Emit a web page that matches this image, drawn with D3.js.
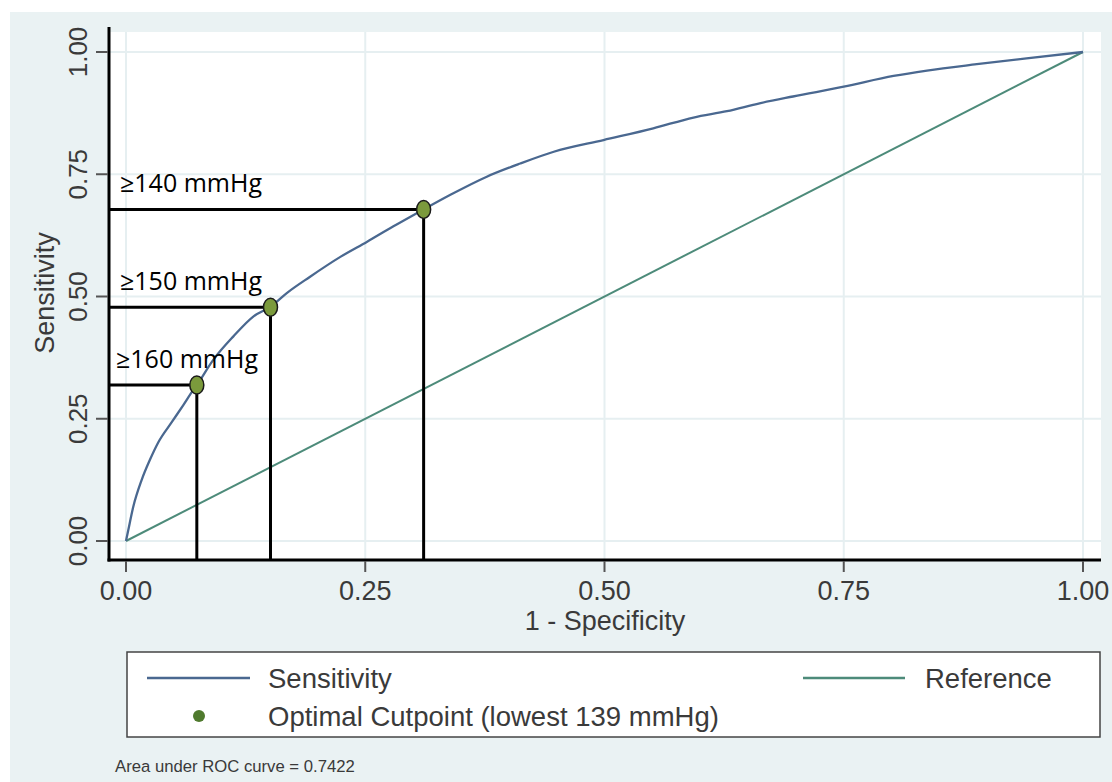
<!DOCTYPE html>
<html>
<head>
<meta charset="utf-8">
<script src="https://cdn.jsdelivr.net/npm/d3@7"></script>
<style>
  html, body { margin: 0; padding: 0; background: #ffffff; }
  svg { display: block; }
</style>
</head>
<body>
<svg id="chart" width="1112" height="782"></svg>
<script>
// ---- Data ----
const rocFpr = [0, 0.0024, 0.0076, 0.0164, 0.025, 0.0338, 0.0478, 0.0599, 0.0703, 0.074, 0.091, 0.112, 0.133, 0.151, 0.168, 0.192, 0.224, 0.252, 0.279, 0.310, 0.339, 0.377, 0.412, 0.447, 0.499, 0.551, 0.593, 0.628, 0.662, 0.697, 0.750, 0.802, 0.837, 0.889, 0.941, 1.0];
const rocSens = [0, 0.0225, 0.070, 0.125, 0.166, 0.202, 0.243, 0.278, 0.309, 0.319, 0.370, 0.418, 0.459, 0.479, 0.507, 0.540, 0.581, 0.612, 0.643, 0.677, 0.708, 0.745, 0.772, 0.796, 0.820, 0.844, 0.866, 0.879, 0.895, 0.909, 0.929, 0.951, 0.962, 0.975, 0.987, 1.0];
const refFpr = [0, 1];
const refSens = [0, 1];
const cutLabels = ["≥140 mmHg", "≥150 mmHg", "≥160 mmHg"];
const cutFpr = [0.311, 0.151, 0.074];
const cutSens = [0.678, 0.478, 0.319];
const tickValues = [0, 0.25, 0.5, 0.75, 1];
const tickLabels = ["0.00", "0.25", "0.50", "0.75", "1.00"];
const legendLabels = ["Sensitivity", "Reference", "Optimal Cutpoint (lowest 139 mmHg)"];
const aucNote = "Area under ROC curve = 0.7422";
const xTitle = "1 - Specificity";
const yTitle = "Sensitivity";

// ---- Layout ----
const svg = d3.select("#chart");
const bg = "#eaf2f3";
const gridCol = "#e6eff1";
const textCol = "#3a3a3a";
const sensCol = "#4a6890";
const refCol = "#4d8b7a";
const sansFont = "'Liberation Sans', Arial, Helvetica, sans-serif";
const annFont = "'Open Sans', 'Noto Sans', sans-serif";

const plot = { left: 110, right: 1101, top: 32, bottom: 560 };
const x = d3.scaleLinear().domain([0, 1]).range([126, 1083]);
const y = d3.scaleLinear().domain([0, 1]).range([541, 52]);

// outer background
svg.append("rect").attr("x", 10).attr("y", 12).attr("width", 1102).attr("height", 770).attr("fill", bg);
// plot region
svg.append("rect").attr("x", plot.left).attr("y", plot.top)
  .attr("width", plot.right - plot.left).attr("height", plot.bottom - plot.top).attr("fill", "#ffffff");

// grid
const grid = svg.append("g");
grid.selectAll("line.v").data(tickValues).join("line")
  .attr("x1", d => x(d)).attr("x2", d => x(d))
  .attr("y1", plot.top).attr("y2", plot.bottom)
  .attr("stroke", gridCol).attr("stroke-width", 2);
grid.selectAll("line.h").data(tickValues).join("line")
  .attr("x1", plot.left).attr("x2", plot.right)
  .attr("y1", d => y(d)).attr("y2", d => y(d))
  .attr("stroke", gridCol).attr("stroke-width", 2);

// reference line
const lineGen = d3.line().x(d => x(d[0])).y(d => y(d[1]));
svg.append("path").datum(refFpr.map((v, i) => [v, refSens[i]]))
  .attr("d", lineGen).attr("fill", "none").attr("stroke", refCol).attr("stroke-width", 2);
// ROC curve
svg.append("path").datum(rocFpr.map((v, i) => [v, rocSens[i]]))
  .attr("d", d3.line().curve(d3.curveMonotoneX).x(d => x(d[0])).y(d => y(d[1])))
  .attr("fill", "none").attr("stroke", sensCol).attr("stroke-width", 2.3);

// cutpoint guide lines
const cuts = cutLabels.map((l, i) => ({ label: l, fpr: cutFpr[i], sens: cutSens[i] }));
const guides = svg.append("g");
guides.selectAll("line.h").data(cuts).join("line")
  .attr("x1", plot.left).attr("x2", d => x(d.fpr))
  .attr("y1", d => y(d.sens)).attr("y2", d => y(d.sens))
  .attr("stroke", "#000").attr("stroke-width", 3);
guides.selectAll("line.v").data(cuts).join("line")
  .attr("x1", d => x(d.fpr)).attr("x2", d => x(d.fpr))
  .attr("y1", d => y(d.sens)).attr("y2", plot.bottom)
  .attr("stroke", "#000").attr("stroke-width", 3);
guides.selectAll("ellipse").data(cuts).join("ellipse")
  .attr("cx", d => x(d.fpr)).attr("cy", d => y(d.sens))
  .attr("rx", 7).attr("ry", 9)
  .attr("fill", "#7b9a3c").attr("stroke", "#1a1a1a").attr("stroke-width", 1.5);
guides.selectAll("text").data(cuts).join("text")
  .attr("x", (d, i) => i === 2 ? 116 : 120)
  .attr("y", d => y(d.sens) - 17)
  .attr("font-family", annFont).attr("font-size", 25).attr("fill", "#000")
  .text(d => d.label);

// axes lines
svg.append("line").attr("x1", 109).attr("x2", 109).attr("y1", 27).attr("y2", 561.5)
  .attr("stroke", "#000").attr("stroke-width", 3);
svg.append("line").attr("x1", 107.5).attr("x2", plot.right).attr("y1", 560).attr("y2", 560)
  .attr("stroke", "#000").attr("stroke-width", 3);

// Y ticks & labels
const yAxis = svg.append("g");
yAxis.selectAll("line").data(tickValues).join("line")
  .attr("x1", 96).attr("x2", 108).attr("y1", d => y(d)).attr("y2", d => y(d))
  .attr("stroke", "#555").attr("stroke-width", 2);
yAxis.selectAll("text").data(tickValues).join("text")
  .attr("transform", d => `translate(87,${y(d)}) rotate(-90)`)
  .attr("text-anchor", "middle")
  .attr("font-family", sansFont).attr("font-size", 26).attr("fill", textCol)
  .text((d, i) => tickLabels[i]);

// X ticks & labels
const xAxis = svg.append("g");
xAxis.selectAll("line").data(tickValues).join("line")
  .attr("x1", d => x(d)).attr("x2", d => x(d)).attr("y1", 561).attr("y2", 572)
  .attr("stroke", "#555").attr("stroke-width", 2);
xAxis.selectAll("text").data(tickValues).join("text")
  .attr("x", d => x(d)).attr("y", 600)
  .attr("text-anchor", "middle")
  .attr("font-family", sansFont).attr("font-size", 27).attr("fill", textCol)
  .text((d, i) => tickLabels[i]);

// axis titles
svg.append("text").attr("x", 605).attr("y", 630).attr("text-anchor", "middle")
  .attr("font-family", sansFont).attr("font-size", 27).attr("fill", textCol).text(xTitle);
svg.append("text").attr("transform", "translate(54,293) rotate(-90)").attr("text-anchor", "middle")
  .attr("font-family", sansFont).attr("font-size", 27).attr("fill", textCol).text(yTitle);

// legend
const lg = svg.append("g");
lg.append("rect").attr("x", 127).attr("y", 652).attr("width", 973).attr("height", 85)
  .attr("fill", "#fff").attr("stroke", "#444").attr("stroke-width", 1.5);
lg.append("line").attr("x1", 147).attr("x2", 250).attr("y1", 678).attr("y2", 678)
  .attr("stroke", sensCol).attr("stroke-width", 2.5);
lg.append("line").attr("x1", 803).attr("x2", 905).attr("y1", 678).attr("y2", 678)
  .attr("stroke", refCol).attr("stroke-width", 2.5);
lg.append("circle").attr("cx", 199).attr("cy", 716).attr("r", 6).attr("fill", "#4f7a2e");
lg.append("text").attr("x", 268).attr("y", 688).attr("font-family", sansFont).attr("font-size", 27.5)
  .attr("fill", textCol).text(legendLabels[0]);
lg.append("text").attr("x", 925).attr("y", 688).attr("font-family", sansFont).attr("font-size", 27.5)
  .attr("fill", textCol).text(legendLabels[1]);
lg.append("text").attr("x", 268).attr("y", 726).attr("font-family", sansFont).attr("font-size", 27.5)
  .attr("fill", textCol).text(legendLabels[2]);

// note
svg.append("text").attr("x", 115).attr("y", 772).attr("font-family", sansFont).attr("font-size", 16.7)
  .attr("fill", textCol).text(aucNote);
</script>
</body>
</html>
